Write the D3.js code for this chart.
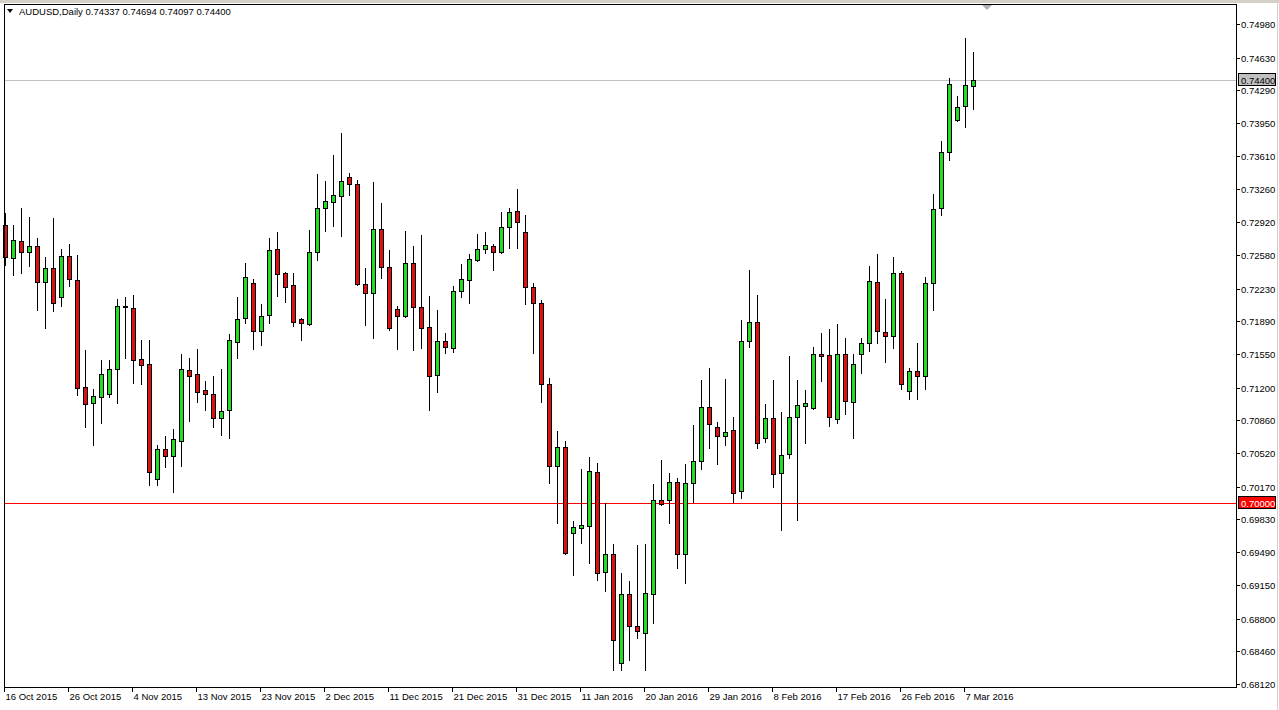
<!DOCTYPE html>
<html>
<head>
<meta charset="utf-8">
<script src="https://cdn.jsdelivr.net/npm/d3@7"></script>
<style>
  html, body { margin: 0; padding: 0; background: #ffffff; }
  svg { display: block; }
  text { font-family: "Liberation Sans", Arial, sans-serif; }
</style>
</head>
<body>
<svg id="chart" width="1279" height="710"></svg>
<script>
// ---- data (AUDUSD Daily, one value per candle) ----
const symbolTitle = "AUDUSD,Daily";
const opens = [0.72891,0.72548,0.72725,0.72610,0.72673,0.72299,0.72444,0.72143,0.72569,0.72319,
0.71208,0.71041,0.71104,0.71135,0.71394,0.72039,0.72028,0.71498,0.71446,0.70252,
0.70564,0.70490,0.70646,0.71384,0.71342,0.71176,0.71135,0.70885,0.70968,0.71675,
0.71924,0.72289,0.71789,0.71955,0.72642,0.72392,0.72268,0.71914,0.71862,0.72610,
0.73068,0.73130,0.73192,0.73391,0.73318,0.72278,0.72185,0.72850,0.72455,0.72018,
0.71945,0.72493,0.72039,0.71830,0.71332,0.71685,0.71613,0.72205,0.72319,0.72527,
0.72642,0.72673,0.72610,0.72871,0.73037,0.72818,0.72247,0.72080,0.71239,0.70386,
0.70584,0.69690,0.69742,0.69763,0.70324,0.69284,0.69471,0.68339,0.69055,0.68723,
0.68650,0.69055,0.70033,0.70033,0.70220,0.69471,0.70210,0.70438,0.70999,0.70791,
0.70698,0.70760,0.70127,0.71685,0.71883,0.70677,0.70885,0.70314,0.70511,0.70895,
0.71010,0.70989,0.71550,0.71540,0.70874,0.71550,0.71051,0.71550,0.71665,0.72299,
0.71779,0.71737,0.72392,0.71166,0.71374,0.71322,0.72289,0.73068,0.73650,0.73982,
0.74128,0.74337];
const highs = [0.73016,0.72891,0.73068,0.72974,0.72756,0.72558,0.72964,0.72642,0.72694,0.72579,
0.71592,0.71187,0.71488,0.71488,0.72122,0.72143,0.72163,0.71696,0.71696,0.70604,
0.70698,0.70771,0.71550,0.71509,0.71602,0.71270,0.71322,0.71394,0.71758,0.72143,
0.72493,0.72330,0.72070,0.72756,0.72818,0.72403,0.72392,0.71924,0.72839,0.73421,
0.73349,0.73619,0.73847,0.73432,0.73360,0.72444,0.73339,0.73120,0.72631,0.72049,
0.72829,0.72673,0.72787,0.72153,0.72008,0.71768,0.72257,0.72486,0.72590,0.72798,
0.72818,0.72694,0.73026,0.73068,0.73266,0.72995,0.72289,0.72111,0.71301,0.70750,
0.70646,0.69815,0.70355,0.70479,0.70417,0.70001,0.69575,0.69274,0.69191,0.69565,
0.69575,0.70199,0.70448,0.70314,0.70262,0.70407,0.70812,0.71280,0.71405,0.70843,
0.71291,0.70895,0.71903,0.72424,0.72163,0.71030,0.71280,0.70947,0.71530,0.71280,
0.71176,0.71623,0.71768,0.71810,0.71862,0.71716,0.71550,0.71716,0.72465,0.72590,
0.72122,0.72558,0.72413,0.71405,0.71665,0.72351,0.73213,0.73764,0.74419,0.74232,
0.74835,0.74694];
const lows = [0.72475,0.72371,0.72392,0.72465,0.72008,0.71820,0.71998,0.72049,0.72257,0.71124,
0.70791,0.70604,0.70832,0.71104,0.71041,0.71509,0.71249,0.71239,0.70190,0.70190,
0.70375,0.70118,0.70386,0.70854,0.71051,0.70968,0.70791,0.70708,0.70677,0.71509,
0.71872,0.71602,0.71644,0.71872,0.72153,0.72091,0.71841,0.71696,0.71851,0.72527,
0.72829,0.72881,0.72777,0.73203,0.72268,0.71851,0.71716,0.72341,0.71800,0.71602,
0.71930,0.71592,0.71613,0.70968,0.71155,0.71561,0.71571,0.72143,0.72080,0.72517,
0.72600,0.72424,0.72600,0.72652,0.72652,0.72070,0.71561,0.71051,0.70210,0.69794,
0.69472,0.69253,0.69586,0.69378,0.69201,0.69087,0.68266,0.68266,0.68370,0.68598,
0.68266,0.68754,0.69981,0.69794,0.69326,0.69170,0.70012,0.70355,0.70574,0.70407,
0.70604,0.70012,0.70054,0.71623,0.70574,0.70636,0.70168,0.69721,0.70469,0.69825,
0.70625,0.70979,0.71270,0.70802,0.70832,0.70926,0.70677,0.71353,0.71582,0.71665,
0.71467,0.71613,0.71187,0.71083,0.71083,0.71187,0.72008,0.72995,0.73567,0.73972,
0.73910,0.74097];
const closes = [0.72558,0.72735,0.72610,0.72673,0.72299,0.72444,0.72080,0.72569,0.72330,0.71197,
0.71030,0.71114,0.71342,0.71394,0.72049,0.72044,0.71488,0.71436,0.70324,0.70564,
0.70490,0.70667,0.71394,0.71322,0.71155,0.71135,0.70885,0.70957,0.71696,0.71914,
0.72351,0.71789,0.71945,0.72631,0.72382,0.72247,0.71883,0.71872,0.72610,0.73068,
0.73140,0.73203,0.73349,0.73318,0.72278,0.72185,0.72850,0.72455,0.71820,0.71945,
0.72493,0.72039,0.71820,0.71322,0.71685,0.71623,0.72205,0.72330,0.72538,0.72642,
0.72683,0.72610,0.72871,0.73026,0.72922,0.72247,0.72080,0.71239,0.70386,0.70584,
0.69482,0.69752,0.69773,0.70334,0.69274,0.69471,0.68578,0.69055,0.68723,0.68671,
0.69066,0.70033,0.69991,0.70220,0.69471,0.70210,0.70438,0.70999,0.70822,0.70698,
0.70740,0.70106,0.71685,0.71883,0.70625,0.70885,0.70303,0.70501,0.70895,0.71020,
0.71041,0.71550,0.71530,0.70895,0.71550,0.71062,0.71446,0.71665,0.72310,0.71789,
0.71737,0.72392,0.71239,0.71374,0.71322,0.72289,0.73058,0.73650,0.74356,0.74118,
0.74346,0.74400];

// price axis tick labels
const priceTicks = [0.74980,0.74630,0.74290,0.73950,0.73610,0.73260,0.72920,0.72580,0.72230,0.71890,
0.71550,0.71200,0.70860,0.70520,0.70170,0.69830,0.69490,0.69150,0.68800,0.68460,0.68120];
// date labels and the candle they sit under
const dateLabels = ["16 Oct 2015","26 Oct 2015","4 Nov 2015","13 Nov 2015","23 Nov 2015","2 Dec 2015",
"11 Dec 2015","21 Dec 2015","31 Dec 2015","11 Jan 2016","20 Jan 2016","29 Jan 2016",
"8 Feb 2016","17 Feb 2016","26 Feb 2016","7 Mar 2016"];
const dateLabelCandles = [0,8,16,24,32,40,48,56,64,72,80,88,96,104,112,120];
// horizontal levels
const bidLevel = 0.74400;
const roundLevel = 0.70000;

// ---- layout ----
const W = 1279, H = 710;
const plot = { left: 4, top: 4, right: 1236, bottom: 687 };
const svg = d3.select("#chart");

const n = closes.length;
const x = d3.scaleLinear().domain([0, n - 1]).range([5, 973]);
const y = d3.scaleLinear().domain([0.68120, 0.74980]).range([684, 24]);

const px = v => Math.round(v);

// background
svg.append("rect").attr("x",0).attr("y",0).attr("width",W).attr("height",H).attr("fill","#ffffff");

const g = svg.append("g");

// level lines (drawn behind candles)
const levelG = g.append("g");
levelG.append("rect")
  .attr("x", plot.left + 1).attr("y", px(y(bidLevel)))
  .attr("width", plot.right - plot.left - 1).attr("height", 1)
  .style("fill", "#c0c0c0");
levelG.append("rect")
  .attr("x", plot.left + 1).attr("y", px(y(roundLevel)))
  .attr("width", plot.right - plot.left - 1).attr("height", 1)
  .style("fill", "#ff0000");

const candles = d3.range(n).map(i => ({ i, o: opens[i], h: highs[i], l: lows[i], c: closes[i] }));

// wicks
g.append("g").selectAll("line").data(candles).join("line")
  .attr("x1", d => px(x(d.i)) + 0.5).attr("x2", d => px(x(d.i)) + 0.5)
  .attr("y1", d => px(y(d.h))).attr("y2", d => px(y(d.l)) + 1)
  .style("stroke", "#000").attr("stroke-width", 1);

// bodies
g.append("g").selectAll("rect").data(candles).join("rect")
  .attr("x", d => px(x(d.i)) - 2 + 0.5)
  .attr("y", d => px(y(Math.max(d.o, d.c))) + 0.5)
  .attr("width", 4)
  .attr("height", d => Math.max(px(y(Math.min(d.o, d.c))) - px(y(Math.max(d.o, d.c))), 0))
  .style("fill", d => d.c > d.o ? "#22dd22" : (d.c < d.o ? "#dd1111" : "#000"))
  .style("stroke", "#000").attr("stroke-width", 1);

// frame
svg.append("rect")
  .attr("x", plot.left + 0.5).attr("y", plot.top + 0.5)
  .attr("width", plot.right - plot.left).attr("height", plot.bottom - plot.top)
  .style("fill", "none").style("stroke", "#000").attr("stroke-width", 1);

// window chrome top strip
svg.append("rect").attr("x",0).attr("y",0).attr("width",W).attr("height",3).style("fill","#d4d0c8");
svg.append("line").attr("x1",W-1.5).attr("x2",W-1.5).attr("y1",0).attr("y2",H).style("stroke","#d4d0c8");

// price axis
const yAxisG = svg.append("g");
priceTicks.forEach(v => {
  const yy = px(y(v)) + 0.5;
  yAxisG.append("line").attr("x1", plot.right).attr("x2", plot.right + 4)
    .attr("y1", yy).attr("y2", yy).style("stroke","#000");
  yAxisG.append("text").attr("x", plot.right + 5).attr("y", yy + 3.5)
    .attr("font-size", "9.5px").style("fill","#000").text(v.toFixed(5));
});

// level labels on the price axis
function levelLabel(v, fill, textColor) {
  const yy = px(y(v));
  yAxisG.append("rect").attr("x", plot.right + 2.5).attr("y", yy - 6.5)
    .attr("width", 37).attr("height", 12)
    .style("fill", fill).style("stroke", "#000");
  yAxisG.append("text").attr("x", plot.right + 5).attr("y", yy + 4)
    .attr("font-size", "9.5px").style("fill", textColor).text(v.toFixed(5));
}
levelLabel(bidLevel, "#c0c0c0", "#000");
levelLabel(roundLevel, "#ff0000", "#fff");

// time axis
const xAxisG = svg.append("g");
dateLabels.forEach((lab, k) => {
  const xx = px(x(dateLabelCandles[k])) + 0.5;
  xAxisG.append("line").attr("x1", xx - 1).attr("x2", xx - 1)
    .attr("y1", plot.bottom).attr("y2", plot.bottom + 5).style("stroke","#000");
  xAxisG.append("text").attr("x", xx).attr("y", plot.bottom + 13)
    .attr("font-size", "9.5px").style("fill","#000").text(lab);
});

// header
svg.append("path").attr("d", "M7,9 L13,9 L10,13 Z").style("fill","#000");
svg.append("text").attr("x", 19).attr("y", 15).attr("font-size","9.5px").style("fill","#000")
  .text(symbolTitle + "  " + [opens[n-1], highs[n-1], lows[n-1], closes[n-1]].map(v => v.toFixed(5)).join(" "));

// chart shift marker
svg.append("path").attr("d", "M982,5 L992,5 L987,10 Z").style("fill","#b0b0b0");
</script>
</body>
</html>
